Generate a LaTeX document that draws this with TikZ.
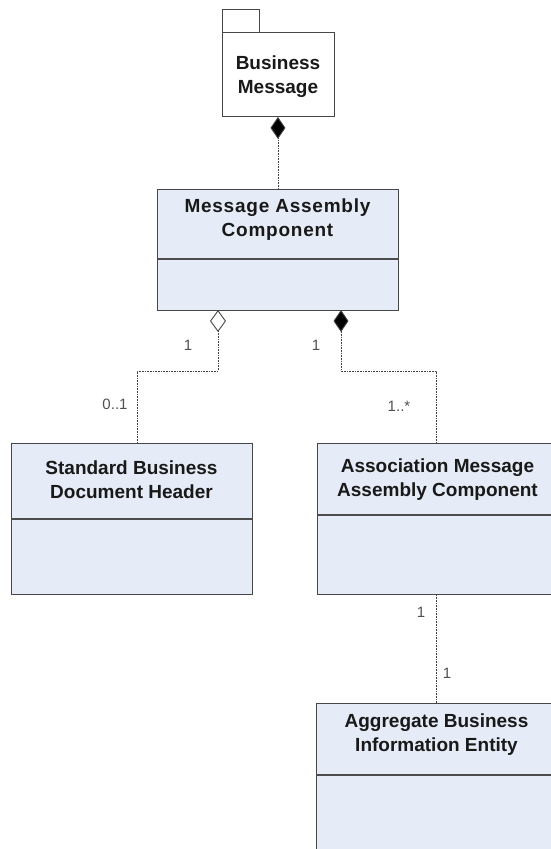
\documentclass[tikz,border=0pt]{standalone}
\usepackage{fontspec}
\setmainfont{Liberation Sans}
\usetikzlibrary{arrows.meta}
\definecolor{classfill}{RGB}{230,236,247}
\definecolor{edge}{RGB}{70,70,70}
\definecolor{mult}{RGB}{80,80,80}
\tikzset{
  classbox/.style={draw=edge, line width=0.9pt, fill=classfill, inner sep=0pt, minimum width=241pt},
  pkgbox/.style={draw=edge, line width=0.9pt, fill=white, inner sep=0pt},
  title/.style={font=\fontsize{19}{24}\selectfont\bfseries, align=center, inner sep=0pt, text=black!90},
  divider/.style={draw=black!70, line width=1.8pt},
  conn/.style={draw=edge, line width=0.9pt, dash pattern=on 1pt off 0.6pt},
  multlabel/.style={font=\fontsize{15}{17}\selectfont, text=mult, inner sep=0pt},
  composite/.style={-{Diamond[length=22pt,width=15pt,fill=black]}},
  shared/.style={-{Diamond[open,length=22pt,width=16pt,fill=white]}},
}
\begin{document}
\begin{tikzpicture}[x=1pt,y=-1pt]
  \useasboundingbox (0,0) rectangle (551,849);
  \clip (0,0) rectangle (551,849);

  % package: Business Message
  \node[pkgbox, minimum width=37pt, minimum height=23pt, anchor=north west] (tab) at (222,9) {};
  \node[pkgbox, minimum width=112pt, minimum height=84pt, anchor=north west] (pkg) at (222,32) {};
  \node[title] (pkgtext) at (278,77) {Business\\Message};

  % class: Message Assembly Component
  \node[classbox, minimum height=121pt, anchor=north west] (mac) at (157,189) {};
  \node[title, font=\fontsize{19}{24}\selectfont\bfseries\addfontfeature{LetterSpace=4}] (mactext) at (277.5,220) {Message Assembly\\Component};
  \draw[divider] (mac.west |- 0,259) -- (mac.east |- 0,259);

  % class: Standard Business Document Header
  \node[classbox, minimum height=151pt, anchor=north west] (sbdh) at (11,443) {};
  \node[title] (sbdhtext) at (131.5,480) {Standard Business\\Document Header};
  \draw[divider] (sbdh.west |- 0,519) -- (sbdh.east |- 0,519);

  % class: Association Message Assembly Component
  \node[classbox, minimum height=151pt, anchor=north west] (amac) at (317,443) {};
  \node[title] (amactext) at (437.5,480) {Association Message\\Assembly Component};
  \draw[divider] (amac.west |- 0,515) -- (amac.east |- 0,515);

  % class: Aggregate Business Information Entity
  \node[classbox, minimum height=160pt, anchor=north west] (abie) at (316,703) {};
  \node[title] (abietext) at (436.5,735) {Aggregate Business\\Information Entity};
  \draw[divider] (abie.west |- 0,775) -- (abie.east |- 0,775);

  % connectors
  \coordinate (macL) at (218,310);
  \coordinate (macR) at (341,310);
  \coordinate (bendL) at (137,371);
  \coordinate (bendR) at (436,371);

  \draw[conn, composite] (mac.north) -- (mac.north |- pkg.south);
  \draw[conn, shared] (sbdh.north -| bendL) -- (bendL) -- (bendL -| macL) -- (macL);
  \draw[conn, composite] (amac.north -| bendR) -- (bendR) -- (bendR -| macR) -- (macR);
  \draw[conn] (amac.south -| bendR) -- (abie.north -| bendR);

  % multiplicities
  \node[multlabel] (m1) at (188,345) {1};
  \node[multlabel] (m2) at (316,345) {1};
  \node[multlabel] (m3) at (115,404) {0..1};
  \node[multlabel] (m4) at (399,406) {1..*};
  \node[multlabel] (m5) at (421,612) {1};
  \node[multlabel] (m6) at (447,673) {1};
\end{tikzpicture}
\end{document}
